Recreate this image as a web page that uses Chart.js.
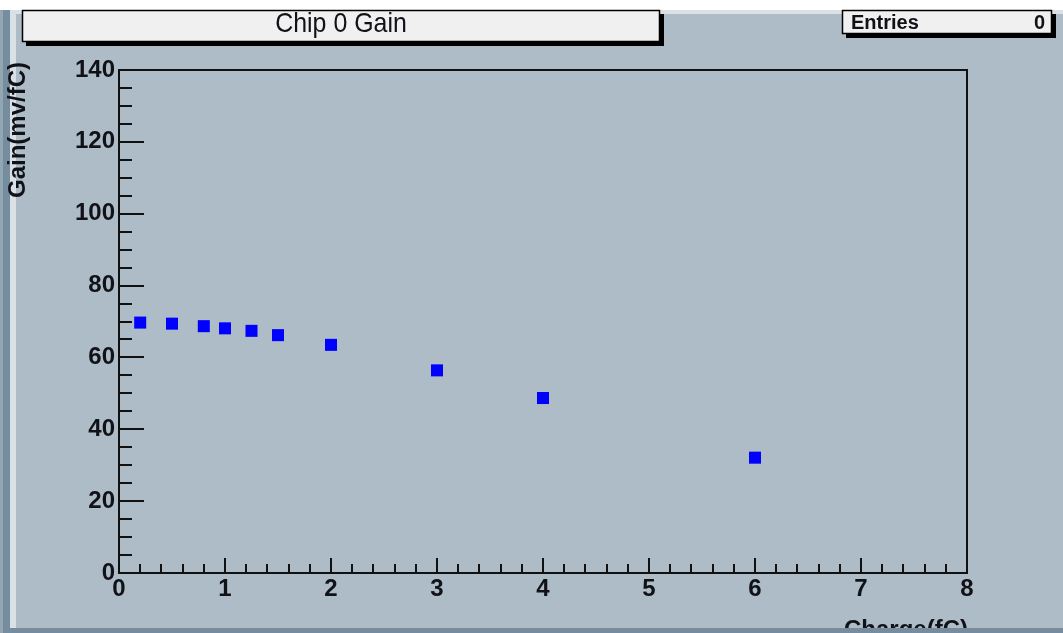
<!DOCTYPE html>
<html>
<head>
<meta charset="utf-8">
<title>Chip 0 Gain</title>
<script src="https://cdn.jsdelivr.net/npm/chart.js@4.4.1/dist/chart.umd.min.js"></script>
<style>
  html, body { margin: 0; padding: 0; background: #adbcc6; overflow: hidden; }
  #gain { display: block; }
</style>
</head>
<body>
<canvas id="gain" width="1063" height="633"></canvas>
<script>
// Injected charge (fC) and measured gain (mV/fC) for chip 0
const chargeFC = [0.2, 0.5, 0.8, 1.0, 1.25, 1.5, 2, 3, 4, 6];
const gainMvPerFC = [69.7, 69.4, 68.7, 68.1, 67.4, 66.2, 63.5, 56.4, 48.7, 32.1];

// Axis ranges and tick spacing
const xRange = [0, 8];
const yRange = [0, 140];
const xMajorStep = 1;
const xMinorStep = 0.2;
const yMajorStep = 20;
const yMinorStep = 5;

// Texts
const histTitle = 'Chip 0 Gain';
const statsLabel = 'Entries';
const statsValue = '0';
const xTitle = 'Charge(fC)';
const yTitle = 'Gain(mv/fC)';

const PAD_COLOR = '#adbcc6';
const TEXT_COLOR = '#111118';
const FONT = '"Liberation Sans", Arial, sans-serif';

function shadowBox(ctx, x, y, w, h, sh) {
  ctx.fillStyle = '#000';
  ctx.fillRect(x + sh, y + sh, w, h);
  ctx.fillStyle = '#f0f0f0';
  ctx.fillRect(x, y, w, h);
  ctx.strokeStyle = '#000';
  ctx.lineWidth = 1.5;
  ctx.strokeRect(x + 0.5, y + 0.5, w - 1, h - 1);
}

const rootStyle = {
  id: 'rootStyle',
  beforeDraw(chart) {
    const ctx = chart.ctx;
    const W = chart.width, H = chart.height;
    ctx.save();
    ctx.fillStyle = PAD_COLOR;
    ctx.fillRect(0, 0, W, H);
    // canvas bevel
    ctx.fillStyle = '#ffffff';
    ctx.fillRect(0, 0, W, 10);
    ctx.fillStyle = '#93a6b4';
    ctx.fillRect(0, 10, 3, H - 10);
    ctx.fillStyle = '#758d9f';
    ctx.fillRect(3, 10, 7, H - 10);
    ctx.fillStyle = '#d9e1e6';
    ctx.fillRect(10, 10, 6, H - 10);
    ctx.fillRect(10, 10, W - 10, 4);

    // title box
    shadowBox(ctx, 22, 10, 638, 32, 4);
    ctx.fillStyle = TEXT_COLOR;
    ctx.font = '28px ' + FONT;
    ctx.textAlign = 'center';
    ctx.textBaseline = 'middle';
    ctx.save();
    ctx.translate(341, 24);
    ctx.scale(0.89, 1);
    ctx.fillText(histTitle, 0, 0);
    ctx.restore();

    // stats box
    shadowBox(ctx, 842, 10, 210, 24, 4);
    ctx.fillStyle = TEXT_COLOR;
    ctx.font = 'bold 20px ' + FONT;
    ctx.textAlign = 'left';
    ctx.fillText(statsLabel, 851, 23);
    ctx.textAlign = 'right';
    ctx.fillText(statsValue, 1045, 23);
    ctx.restore();
  },
  beforeDatasetsDraw(chart) {
    const ctx = chart.ctx;
    const a = chart.chartArea;
    const xs = chart.scales.x, ys = chart.scales.y;
    ctx.save();
    ctx.strokeStyle = '#111';
    ctx.lineWidth = 2;
    // tick marks drawn inside the frame
    ctx.beginPath();
    const nx = Math.round((xRange[1] - xRange[0]) / xMinorStep);
    for (let i = 1; i < nx; i++) {
      const v = xRange[0] + i * xMinorStep;
      const major = Math.abs(v / xMajorStep - Math.round(v / xMajorStep)) < 1e-6;
      const px = Math.round(xs.getPixelForValue(v));
      ctx.moveTo(px, a.bottom);
      ctx.lineTo(px, a.bottom - (major ? 15 : 9));
    }
    const ny = Math.round((yRange[1] - yRange[0]) / yMinorStep);
    for (let i = 1; i < ny; i++) {
      const v = yRange[0] + i * yMinorStep;
      const major = v % yMajorStep === 0;
      const py = Math.round(ys.getPixelForValue(v));
      ctx.moveTo(a.left, py);
      ctx.lineTo(a.left + (major ? 25 : 13), py);
    }
    ctx.stroke();
    // frame
    ctx.strokeRect(a.left, a.top, a.right - a.left, a.bottom - a.top);
    ctx.restore();
  },
  afterDraw(chart) {
    const ctx = chart.ctx;
    const a = chart.chartArea;
    const W = chart.width, H = chart.height;
    ctx.save();
    ctx.fillStyle = TEXT_COLOR;
    ctx.font = 'bold 24px ' + FONT;
    // y axis title, right-aligned to the top of the axis
    ctx.save();
    ctx.translate(18, a.top - 8);
    ctx.rotate(-Math.PI / 2);
    ctx.textAlign = 'right';
    ctx.textBaseline = 'middle';
    ctx.fillText(yTitle, 0, 0);
    ctx.restore();
    // x axis title, right-aligned to the end of the axis
    ctx.textAlign = 'right';
    ctx.textBaseline = 'top';
    ctx.fillText(xTitle, a.right + 1, 618);
    // bottom bevel covers the lower part of the canvas
    ctx.fillStyle = '#758d9f';
    ctx.fillRect(10, H - 5, W - 10, 5);
    ctx.restore();
  }
};

const tickFont = { family: FONT, size: 24, weight: 'bold' };

new Chart(document.getElementById('gain'), {
  type: 'scatter',
  data: {
    datasets: [{
      label: histTitle,
      data: chargeFC.map((x, i) => ({ x: x, y: gainMvPerFC[i] })),
      pointStyle: 'rect',
      pointRadius: 8.5,
      pointHoverRadius: 8.5,
      backgroundColor: '#0000ff',
      borderWidth: 0
    }]
  },
  options: {
    responsive: false,
    animation: false,
    devicePixelRatio: 1,
    layout: { padding: { top: 70, right: 96, left: 0, bottom: 0 } },
    plugins: {
      legend: { display: false },
      tooltip: { enabled: false },
      title: { display: false }
    },
    scales: {
      x: {
        type: 'linear',
        min: xRange[0],
        max: xRange[1],
        grid: { display: false, drawTicks: false },
        border: { display: false },
        ticks: { stepSize: xMajorStep, color: TEXT_COLOR, font: tickFont, padding: 2, maxRotation: 0 },
        afterFit(scale) { scale.height = 60; }
      },
      y: {
        type: 'linear',
        min: yRange[0],
        max: yRange[1],
        grid: { display: false, drawTicks: false },
        border: { display: false },
        ticks: { stepSize: yMajorStep, color: TEXT_COLOR, font: tickFont, padding: 4 },
        afterFit(scale) { scale.width = 119; }
      }
    }
  },
  plugins: [rootStyle]
});
</script>
</body>
</html>
